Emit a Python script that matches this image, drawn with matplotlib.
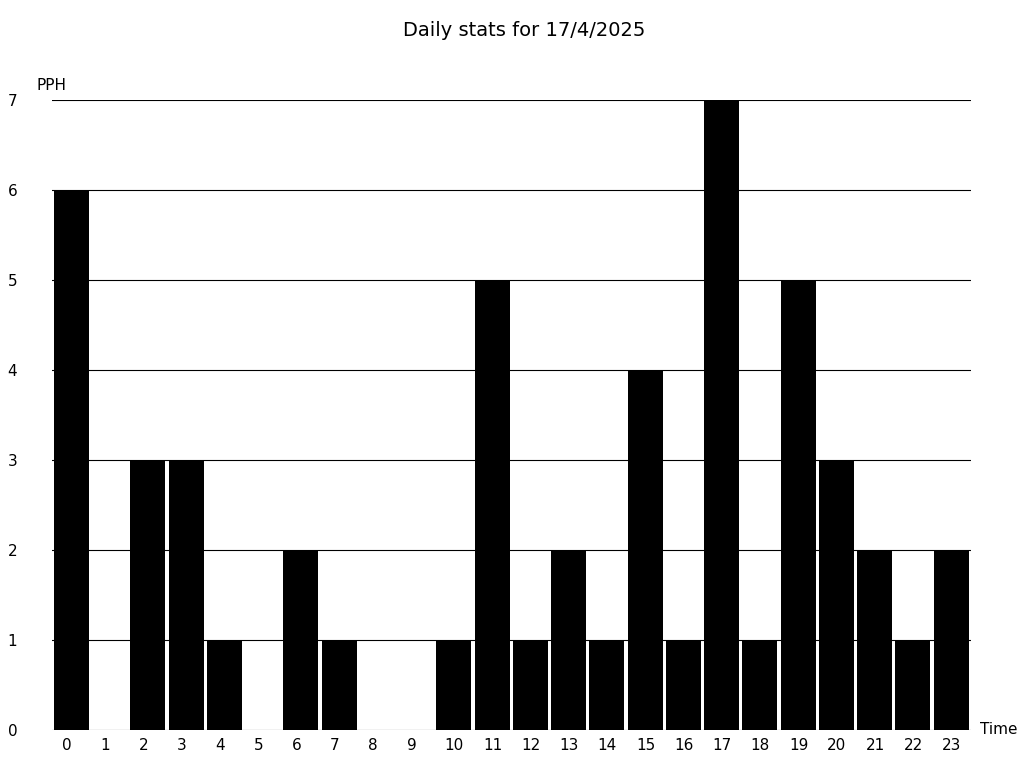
import matplotlib
matplotlib.use('Agg')
import matplotlib.pyplot as plt

hours = list(range(24))
pph = [6, 0, 3, 3, 1, 0, 2, 1, 0, 0, 1, 5, 1, 2, 1, 4, 1, 7, 1, 5, 3, 2, 1, 2]
yticks = [0, 1, 2, 3, 4, 5, 6, 7]

fig = plt.figure(figsize=(10.24, 7.68), dpi=100)
ax = fig.add_axes([52/1024, 38/768, 919/1024, 630/768])

# grid lines behind the bars
for y in yticks:
    ax.axhline(y, color='black', linewidth=0.8, zorder=1)

ax.bar(hours, pph, width=0.915, color='black', zorder=2)

ax.set_xlim(-0.51, 23.52)
ax.set_ylim(0, 7)

for s in ax.spines.values():
    s.set_visible(False)

# tick labels are left-aligned a bit inside each bar slot
ax.set_xticks([h - 0.24 for h in hours])
ax.set_xticklabels([str(h) for h in hours], ha='left')
ax.set_yticks(yticks)
ax.set_yticklabels([str(y) for y in yticks])
ax.tick_params(axis='x', length=0, pad=6, labelsize=11)
ax.tick_params(axis='y', length=0, pad=25, labelsize=11)

fig.text(51/1024, 1 - 85/768, 'PPH', ha='center', va='center', fontsize=11)
fig.text(980/1024, 1 - 730/768, 'Time', ha='left', va='center', fontsize=11)
fig.text(0.512, 1 - 30/768, 'Daily stats for 17/4/2025', ha='center', va='center', fontsize=14)

fig.savefig('out.png', dpi=100)
